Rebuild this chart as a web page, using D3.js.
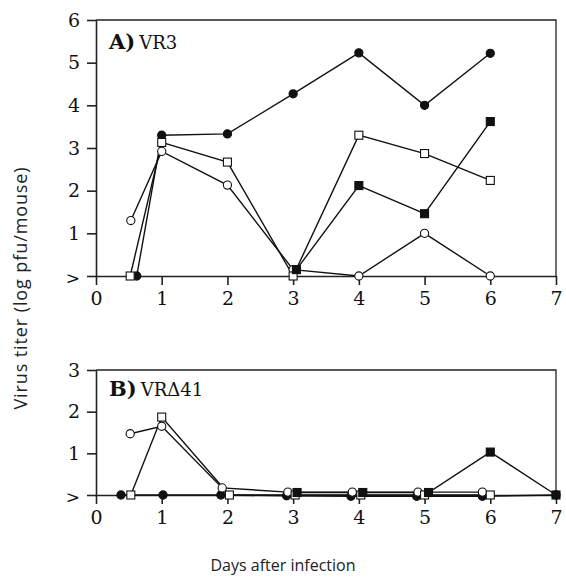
<!DOCTYPE html>
<html>
<head>
<meta charset="utf-8">
<title>Virus titer</title>
<script src="https://d3js.org/d3.v7.min.js"></script>
<style>
body { margin: 0; background: #fff; }
</style>
</head>
<body>
<script>
// tick labels
var dayTicks = [0, 1, 2, 3, 4, 5, 6, 7];
var yTicksA = [0, 1, 2, 3, 4, 5, 6];
var yTicksB = [0, 1, 2, 3];

// panel A) VR3  — [day, log pfu]
var vr3OpenCircle   = [[0.53, 1.3], [1, 2.92], [2, 2.13], [3, 0.15], [4, 0], [5, 1.0], [6, 0]];
var vr3FilledCircle = [[0.62, 0], [1, 3.3], [2, 3.33], [3, 4.27], [4, 5.23], [5, 4.0], [6, 5.22]];
var vr3OpenSquare   = [[0.52, 0], [1, 3.13], [2, 2.67], [3, 0], [4, 3.3], [5, 2.87], [6, 2.24]];
var vr3FilledSquare = [[3.05, 0.15], [4, 2.12], [5, 1.46], [6, 3.62]];

// panel B) VRΔ41
var vrd41OpenCircle   = [[0.52, 1.47], [1, 1.65], [1.92, 0.17], [2.92, 0.07], [3.9, 0.07], [4.9, 0.07], [5.88, 0.07]];
var vrd41FilledCircle = [[0.38, 0], [1.02, 0], [1.9, 0], [2.9, -0.02], [3.88, -0.03], [4.88, -0.03], [5.88, -0.03], [7, 0]];
var vrd41OpenSquare   = [[0.53, 0], [1, 1.87], [2.03, 0], [3.03, 0], [4.03, 0], [5.0, 0], [6.0, 0]];
var vrd41FilledSquare = [[3.06, 0.06], [4.06, 0.06], [5.06, 0.06], [6, 1.03], [7, 0]];

var w = 566, h = 579;
var svg = d3.select('body').append('svg')
    .attr('width', w)
    .attr('height', h);

svg.append('rect').attr('width', w).attr('height', h).attr('fill', '#fff');

var x = d3.scaleLinear().domain([0, 7]).range([96, 556]);
var serif = '"DejaVu Serif", "Liberation Serif", serif';

function panel(yTop, yBottom, yTicks, title, sub, titleY, series) {
    var ymax = yTicks[yTicks.length - 1];
    var y = d3.scaleLinear().domain([0, ymax]).range([yBottom, yTop]);
    var g = svg.append('g');

    // frame (top and right)
    g.append('path')
     .attr('d', 'M' + x(0) + ',' + y(ymax) + 'H' + x(7) + 'V' + y(0))
     .attr('fill', 'none').attr('stroke', '#222').attr('stroke-width', 1.3);

    var xAxis = g.append('g')
        .attr('transform', 'translate(0,' + y(0) + ')')
        .call(d3.axisBottom(x).tickValues(dayTicks).tickSize(9).tickPadding(7).tickSizeOuter(0)
              .tickFormat(d3.format('d')));
    var yAxis = g.append('g')
        .attr('transform', 'translate(' + x(0) + ',0)')
        .call(d3.axisLeft(y).tickValues(yTicks).tickSize(9).tickPadding(7).tickSizeOuter(0)
              .tickFormat(function(d) { return d === 0 ? '>' : d3.format('d')(d); }));
    [xAxis, yAxis].forEach(function(a) {
        a.attr('font-family', serif).attr('font-size', 19);
        a.selectAll('path, line').attr('stroke', '#222').attr('stroke-width', 1.6);
        a.selectAll('text').attr('fill', '#111');
    });
    yAxis.select('.tick text').attr('dy', '0.45em').attr('font-size', 17);

    var t = g.append('text')
        .attr('x', 109).attr('y', titleY)
        .attr('font-family', serif).attr('fill', '#111');
    t.append('tspan').attr('font-size', 21).attr('font-weight', 'bold').text(title);
    t.append('tspan').attr('font-size', 18).attr('dx', 4).text(sub);

    var line = d3.line().x(function(d) { return x(d[0]); }).y(function(d) { return y(d[1]); });

    series.forEach(function(s) {
        g.append('path').datum(s.data)
         .attr('d', line)
         .attr('fill', 'none').attr('stroke', '#111').attr('stroke-width', 1.4);
    });
    series.forEach(function(s) {
        var fill = s.filled ? '#111' : '#fff';
        if (s.shape === 'circle') {
            g.selectAll(null).data(s.data).enter().append('circle')
             .attr('cx', function(d) { return x(d[0]); })
             .attr('cy', function(d) { return y(d[1]); })
             .attr('r', 4.1)
             .attr('fill', fill).attr('stroke', '#111').attr('stroke-width', 1.1);
        } else {
            g.selectAll(null).data(s.data).enter().append('rect')
             .attr('x', function(d) { return x(d[0]) - 4; })
             .attr('y', function(d) { return y(d[1]) - 4; })
             .attr('width', 8).attr('height', 8)
             .attr('fill', fill).attr('stroke', '#111').attr('stroke-width', 1.1);
        }
    });
}

panel(20, 276, yTicksA, 'A)', 'VR3', 49, [
    {data: vr3OpenCircle, shape: 'circle', filled: false},
    {data: vr3FilledCircle, shape: 'circle', filled: true},
    {data: vr3OpenSquare, shape: 'square', filled: false},
    {data: vr3FilledSquare, shape: 'square', filled: true}
]);

panel(370, 495, yTicksB, 'B)', 'VR\u039441', 396, [
    {data: vrd41FilledCircle, shape: 'circle', filled: true},
    {data: vrd41OpenCircle, shape: 'circle', filled: false},
    {data: vrd41OpenSquare, shape: 'square', filled: false},
    {data: vrd41FilledSquare, shape: 'square', filled: true}
]);

svg.append('text')
   .attr('transform', 'translate(27,288) rotate(-90)')
   .attr('text-anchor', 'middle')
   .attr('font-family', '"Open Sans", sans-serif').attr('font-size', 18)
   .attr('letter-spacing', 0.9).attr('fill', '#222')
   .text('Virus titer (log pfu/mouse)');

svg.append('text')
   .attr('x', 283).attr('y', 571)
   .attr('text-anchor', 'middle')
   .attr('font-family', '"Open Sans", sans-serif').attr('font-size', 16).attr('fill', '#222')
   .text('Days after infection');
</script>
</body>
</html>
